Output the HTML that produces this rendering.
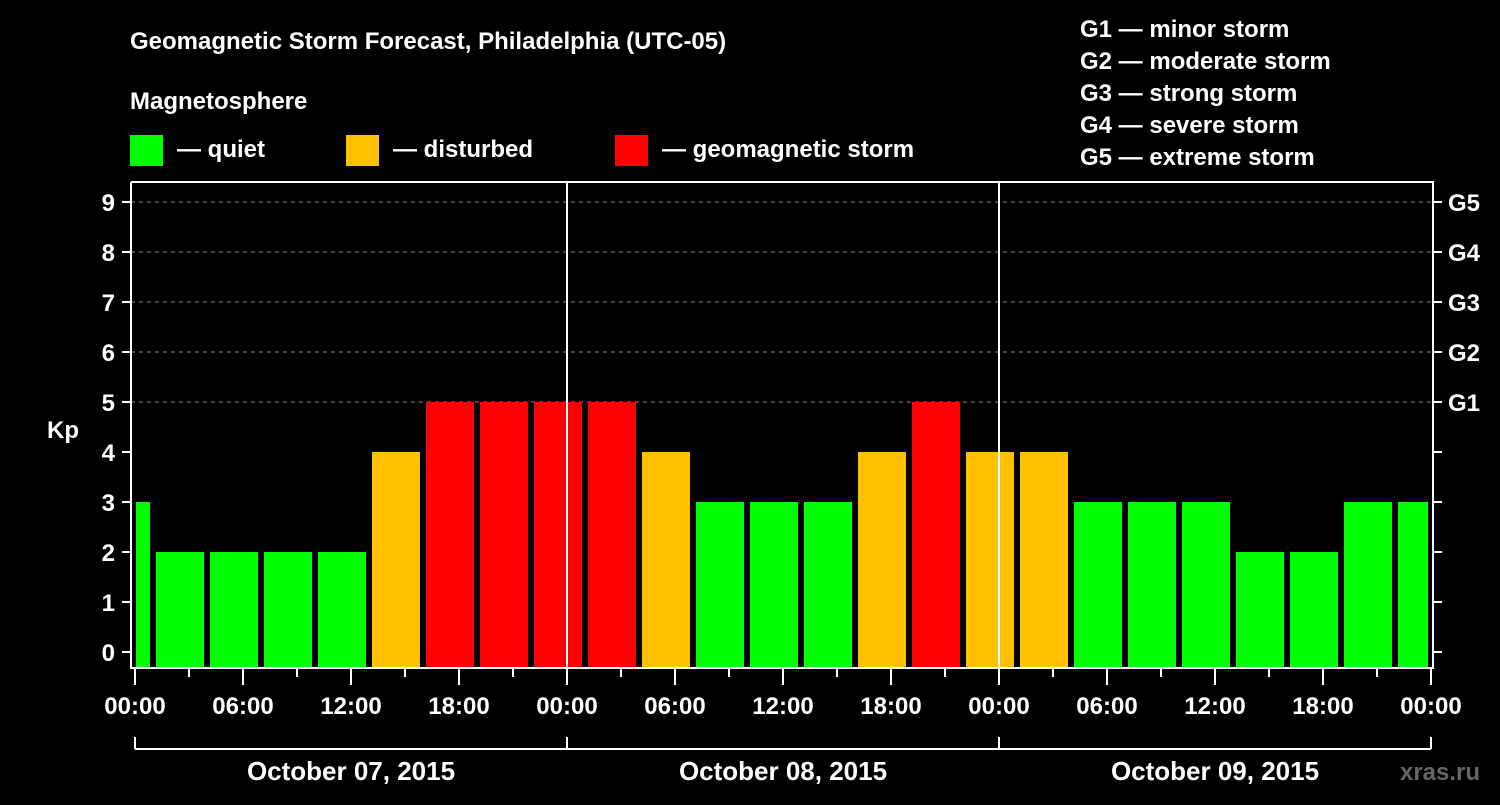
<!DOCTYPE html>
<html><head><meta charset="utf-8"><style>
body{margin:0;background:#000;width:1500px;height:800px;overflow:hidden}
svg text{font-family:"Liberation Sans",sans-serif;font-weight:bold;fill:#fff}
</style></head><body>
<svg width="1500" height="800">
<rect width="1500" height="800" fill="#000"/>
<g id="g"></g>
</svg>
<script>
const categories=["2015-10-06 22:00","01:00","04:00","07:00","10:00","13:00","16:00","19:00","22:00","01:00","04:00","07:00","10:00","13:00","16:00","19:00","22:00","01:00","04:00","07:00","10:00","13:00","16:00","19:00","22:00"];
const kpValues=[3,2,2,2,2,4,5,5,5,5,4,3,3,3,4,5,4,4,3,3,3,2,2,3,3];
const binStartHours=[-2,1,4,7,10,13,16,19,22,25,28,31,34,37,40,43,46,49,52,55,58,61,64,67,70];
const yTicks=[0,1,2,3,4,5,6,7,8,9];
const gLabels=["G1","G2","G3","G4","G5"];
const xTickLabels=["00:00","06:00","12:00","18:00","00:00","06:00","12:00","18:00","00:00","06:00","12:00","18:00","00:00"];
const dateLabels=["October 07, 2015","October 08, 2015","October 09, 2015"];
const NS="http://www.w3.org/2000/svg",G=document.getElementById('g');
const X0=135,PXH=18,L=131,R=1433,T=182,B=668;
const x=h=>X0+h*PXH, y=v=>652-50*v;
function mk(t,a,txt){const e=document.createElementNS(NS,t);for(const k in a)e.setAttribute(k,a[k]);if(txt!=null)e.textContent=txt;G.appendChild(e);return e;}
// title & legends
let e;
e=mk('text',{x:130,y:49,'font-size':24},'Geomagnetic Storm Forecast, Philadelphia (UTC-05)');


e=mk('text',{x:130,y:109,'font-size':24},'Magnetosphere');


[["#00ff00","— quiet",130],["#ffc000","— disturbed",346],["#ff0000","— geomagnetic storm",615]].forEach(l=>{
 e=mk('rect',{x:l[2],y:135,width:33,height:31,fill:l[0]});
 
 
 e=mk('text',{x:l[2]+47,y:157,'font-size':24},l[1]);
 
 
});
["G1 — minor storm","G2 — moderate storm","G3 — strong storm","G4 — severe storm","G5 — extreme storm"].forEach((s,i)=>{
 e=mk('text',{x:1080,y:37+i*32,'font-size':24},s);
 
 
});
// grid
for(let v=5;v<=9;v++){e=mk('line',{x1:L,x2:R,y1:y(v),y2:y(v),stroke:'#888','stroke-dasharray':'4,4','stroke-width':1});
 
 }
// bars
const col=v=>v>=5?'#ff0000':v>=4?'#ffc000':'#00ff00';
kpValues.forEach((v,i)=>{
 let h0=Math.max(binStartHours[i],0),h1=Math.min(binStartHours[i]+3,72);
 let x0=x(h0)+(h0===binStartHours[i]?3:1),x1=x(h1)-3;
 e=mk('rect',{x:x0,y:y(v),width:x1-x0,height:B-y(v),fill:col(v)});
 
 
});
// day separators
[24,48].forEach(h=>{e=mk('line',{x1:x(h),x2:x(h),y1:T,y2:B,stroke:'#fff','stroke-width':2});
 
 });
// frame
e=mk('polyline',{points:`${L},${T} ${L},${B} ${R},${B} ${R},${T} ${L},${T}`,fill:'none',stroke:'#fff','stroke-width':2});


// y ticks
yTicks.forEach(v=>{
 mk('line',{x1:L-9,x2:L,y1:y(v),y2:y(v),stroke:'#fff','stroke-width':2});
 mk('line',{x1:R,x2:R+9,y1:y(v),y2:y(v),stroke:'#fff','stroke-width':2});
 e=mk('text',{x:115,y:y(v)+9,'font-size':24,'text-anchor':'end'},String(v));
 
 
});
gLabels.forEach((s,i)=>{e=mk('text',{x:1448,y:y(5+i)+9,'font-size':24},s);
 
 });
e=mk('text',{x:63,y:438,'font-size':24,'text-anchor':'middle'},'Kp');


// x ticks
for(let h=0;h<=72;h+=3){mk('line',{x1:x(h),x2:x(h),y1:B,y2:B+(h%6===0?17:9),stroke:'#fff','stroke-width':2});}
xTickLabels.forEach((s,i)=>{e=mk('text',{x:x(i*6),y:714,'font-size':24,'text-anchor':'middle'},s);
 
 });
e=mk('line',{x1:x(0),x2:x(72),y1:749,y2:749,stroke:'#fff','stroke-width':2});


[0,24,48,72].forEach(h=>mk('line',{x1:x(h),x2:x(h),y1:737,y2:749,stroke:'#fff','stroke-width':2}));
dateLabels.forEach((s,i)=>{e=mk('text',{x:x(i*24+12),y:780,'font-size':26,'text-anchor':'middle'},s);
 
 });
e=mk('text',{x:1440,y:780,'font-size':24,'text-anchor':'middle',style:'fill:#666'},'xras.ru');


</script>
</body></html>
